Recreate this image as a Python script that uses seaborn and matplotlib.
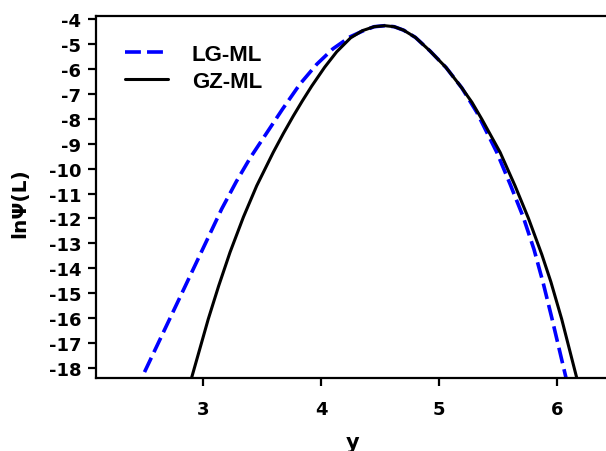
import matplotlib
matplotlib.use("Agg")
import matplotlib.pyplot as plt
import seaborn as sns
import pandas as pd
from matplotlib.colors import to_hex

# ---- data ----
lg_x = [2.429, 2.477, 2.80, 3.156, 3.28, 3.40, 3.673, 3.82, 3.963, 4.10, 4.245, 4.35, 4.45,
        4.54, 4.62, 4.70, 4.80, 4.925, 5.06, 5.194, 5.321, 5.491, 5.604, 5.716, 5.807,
        5.886, 5.958, 6.079, 6.109]
lg_y = [-19.0, -18.42, -15.19, -11.62, -10.52, -9.55, -7.60, -6.60, -5.80, -5.18, -4.70, -4.47, -4.29,
        -4.25, -4.29, -4.43, -4.72, -5.27, -5.93, -6.75, -7.73, -9.34, -10.62, -11.95, -13.25,
        -14.62, -16.00, -18.42, -19.0]

gz_x = [2.865, 2.90, 3.042, 3.13, 3.227, 3.34, 3.453, 3.594, 3.68, 3.764, 3.84, 3.92, 4.03,
        4.132, 4.25, 4.35, 4.45, 4.54, 4.62, 4.70, 4.80, 4.925, 5.06, 5.194, 5.28,
        5.363, 5.519, 5.646, 5.76, 5.873, 5.95, 6.042, 6.170, 6.205]
gz_y = [-19.0, -18.42, -16.05, -14.72, -13.36, -11.95, -10.69, -9.34, -8.58, -7.88, -7.28, -6.68, -5.92,
        -5.30, -4.74, -4.45, -4.29, -4.25, -4.29, -4.43, -4.72, -5.27, -5.93, -6.75, -7.33,
        -8.00, -9.34, -10.69, -12.0, -13.45, -14.55, -16.05, -18.42, -19.0]

series_names = ["LG-ML", "GZ-ML"]
x_ticks = [3, 4, 5, 6]
y_ticks = list(range(-18, -3))

df = pd.concat([
    pd.DataFrame({"y": lg_x, "lnpsi": lg_y, "model": series_names[0]}),
    pd.DataFrame({"y": gz_x, "lnpsi": gz_y, "model": series_names[1]}),
], ignore_index=True)

sns.set_theme(style="ticks")
plt.rcParams["font.family"] = ["DejaVu Sans"]
plt.rcParams["font.weight"] = "bold"
plt.rcParams["axes.labelweight"] = "bold"
plt.rcParams["text.color"] = "black"
plt.rcParams["axes.labelcolor"] = "black"
plt.rcParams["xtick.color"] = "black"
plt.rcParams["ytick.color"] = "black"

W, H = 606, 452
fig = plt.figure(figsize=(W / 100, H / 100), dpi=100)
ax = fig.add_axes([96 / W, (H - 379) / H, 520 / W, 362 / H])

colors = {"LG-ML": "#0000FF", "GZ-ML": "#000000"}
sns.lineplot(data=df, x="y", y="lnpsi", hue="model", style="model",
             hue_order=series_names, style_order=series_names,
             palette=colors, dashes={"LG-ML": (4.4, 1.7), "GZ-ML": ""},
             estimator=None, sort=False, legend=False, ax=ax)

for ln in ax.get_lines():
    c = to_hex(ln.get_color()).lower()
    if c == "#0000ff":
        ln.set_linewidth(2.6)
        ln.set_label("LG-ML")
    else:
        ln.set_linewidth(2.2)
        ln.set_label("GZ-ML")

ax.set_xlim(2.089, 6.503)
ax.set_ylim(-18.42, -3.86)
ax.set_xticks(x_ticks)
ax.set_yticks(y_ticks)
ax.set_xticklabels([str(t) for t in x_ticks], fontsize=13, fontweight="bold", color="black")
ax.set_yticklabels([str(t) for t in y_ticks], fontsize=13, fontweight="bold", color="black")

for s in ["left", "bottom", "top"]:
    ax.spines[s].set_visible(True)
    ax.spines[s].set_linewidth(1.6)
    ax.spines[s].set_color("black")
ax.spines["right"].set_visible(False)
ax.tick_params(direction="out", length=5.5, width=1.6, colors="black")
ax.tick_params(axis="x", top=False, pad=10.5)
ax.tick_params(axis="y", pad=5.0)

ax.set_xlabel("y", fontsize=15, fontweight="bold", color="black")
ax.set_ylabel("lnΨ(L)", fontsize=14.5, fontweight="bold", color="black")
ax.xaxis.set_label_coords(0.494, -0.148)
ax.yaxis.set_label_coords(-0.128, 0.486)

handles = {ln.get_label(): ln for ln in ax.get_lines()}
leg = ax.legend([handles[n] for n in series_names], series_names, loc="upper left",
                bbox_to_anchor=(0.056, 0.922), frameon=False, borderpad=0, borderaxespad=0,
                handlelength=1.95, handletextpad=1.05, labelspacing=0.26,
                prop={"family": "Liberation Sans", "size": 16, "weight": "bold"})
for t in leg.get_texts():
    t.set_color("black")

fig.savefig("out.png", dpi=100)
